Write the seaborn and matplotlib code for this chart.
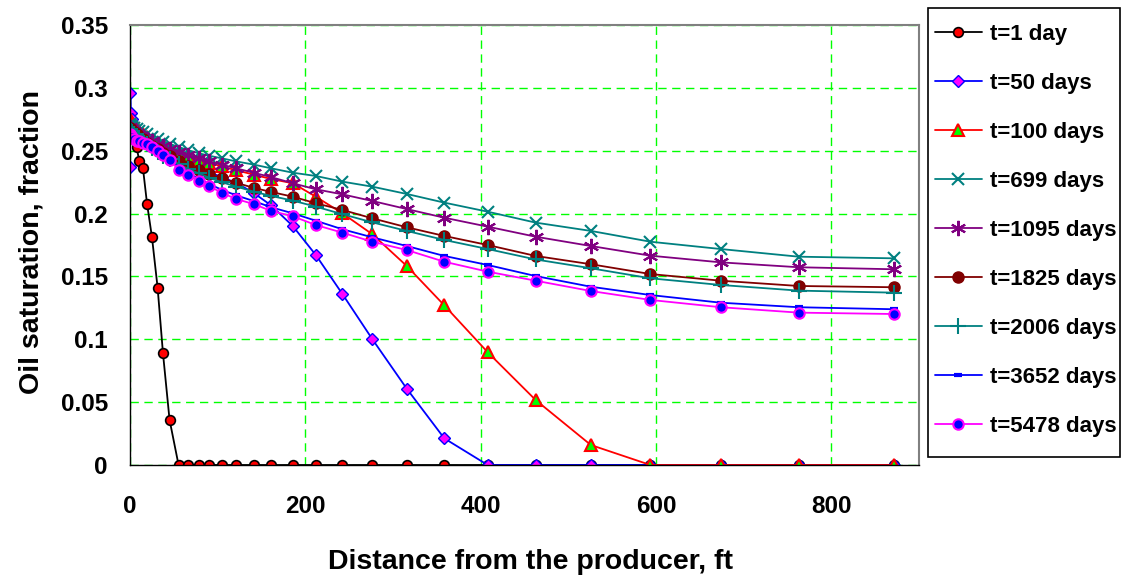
import matplotlib
matplotlib.use("Agg")
import matplotlib.pyplot as plt
import seaborn as sns
from matplotlib.patches import Rectangle
from matplotlib.ticker import MultipleLocator, FuncFormatter

# Distance of each grid block from the producer, ft
DIST = [0, 0.3, 1, 2.5, 4.5, 7.5, 10.5, 14.8, 19.4, 25.1, 31.5, 37.6, 45.1,
        55.4, 66.1, 78.2, 90.4, 104.4, 121.1, 140.9, 161.0, 185.8, 212.0,
        242.3, 276.5, 315.7, 358.5, 408.0, 462.7, 525.7, 593.7, 673.8,
        762.7, 871.0]

# Oil saturation profiles (fraction) at each report time
SO_T1 = [0.267, 0.266, 0.265, 0.263, 0.260, 0.253, 0.242, 0.236, 0.208, 0.181,
         0.141, 0.089, 0.036, 0, 0, 0, 0, 0, 0, 0, 0, 0, 0, 0, 0, 0, 0, 0, 0,
         0, 0, 0, 0, 0]
SO_T50 = [0.237, 0.296, 0.280, 0.275, 0.270, 0.266, 0.263, 0.2605, 0.258,
          0.255, 0.2525, 0.250, 0.247, 0.2435, 0.240, 0.2365, 0.233, 0.229,
          0.2245, 0.2165, 0.2065, 0.190, 0.167, 0.136, 0.100, 0.0607, 0.0212,
          0, 0, 0, 0, 0, 0, 0]
SO_T100 = [0.275, 0.2745, 0.274, 0.272, 0.270, 0.268, 0.266, 0.2635, 0.261,
           0.258, 0.2555, 0.253, 0.2505, 0.248, 0.2455, 0.243, 0.2405, 0.2375,
           0.2345, 0.231, 0.2275, 0.2241, 0.2134, 0.2002, 0.1835, 0.1583,
           0.127, 0.0897, 0.0517, 0.0159, 0, 0, 0, 0]
SO_T699 = [0.271, 0.2705, 0.270, 0.269, 0.268, 0.267, 0.266, 0.2645, 0.263,
           0.261, 0.259, 0.257, 0.2555, 0.253, 0.2505, 0.248, 0.246, 0.244,
           0.2415, 0.239, 0.236, 0.2325, 0.2299, 0.2254, 0.2214, 0.2156,
           0.2087, 0.2015, 0.1928, 0.1862, 0.1776, 0.1718, 0.1657, 0.1644]
SO_T1095 = [0.2685, 0.268, 0.2675, 0.2665, 0.2655, 0.264, 0.2625, 0.261,
            0.2595, 0.2575, 0.2555, 0.2535, 0.2515, 0.249, 0.2465, 0.244,
            0.2415, 0.239, 0.236, 0.2325, 0.229, 0.2241, 0.2193, 0.2153,
            0.2100, 0.2036, 0.1967, 0.1896, 0.1816, 0.1742, 0.1665, 0.1612,
            0.1573, 0.1557]
SO_T1825 = [0.268, 0.2675, 0.267, 0.266, 0.2645, 0.263, 0.261, 0.259, 0.2565,
            0.2535, 0.251, 0.2485, 0.246, 0.242, 0.238, 0.235, 0.2315, 0.228,
            0.2245, 0.2205, 0.2172, 0.2134, 0.2082, 0.2029, 0.1962, 0.1891,
            0.1822, 0.1750, 0.1663, 0.1597, 0.1519, 0.1466, 0.1424, 0.1414]
SO_T2006 = [0.267, 0.2665, 0.266, 0.265, 0.2635, 0.262, 0.260, 0.2575, 0.255,
            0.252, 0.249, 0.246, 0.2435, 0.2395, 0.2355, 0.232, 0.2285, 0.225,
            0.2215, 0.2175, 0.214, 0.2103, 0.2055, 0.1995, 0.1930, 0.1862,
            0.1790, 0.1718, 0.1635, 0.1565, 0.1485, 0.1432, 0.1387, 0.1371]
SO_T3652 = [0.265, 0.2645, 0.264, 0.263, 0.2615, 0.260, 0.259, 0.258, 0.2565,
            0.254, 0.251, 0.2475, 0.2435, 0.2365, 0.232, 0.228, 0.2235, 0.219,
            0.2145, 0.210, 0.205, 0.2002, 0.1943, 0.1875, 0.1811, 0.1742,
            0.1663, 0.1591, 0.1503, 0.1418, 0.1352, 0.1291, 0.1255, 0.1239]
SO_T5478 = [0.263, 0.2625, 0.262, 0.261, 0.2595, 0.258, 0.2575, 0.2565,
            0.2555, 0.253, 0.250, 0.2465, 0.2426, 0.235, 0.2305, 0.2262,
            0.2219, 0.2166, 0.2116, 0.2076, 0.2021, 0.1978, 0.1909, 0.1848,
            0.1776, 0.1710, 0.1617, 0.1538, 0.1466, 0.1384, 0.1313, 0.1255,
            0.1212, 0.1201]

LABELS = ["t=1 day", "t=50 days", "t=100 days", "t=699 days", "t=1095 days",
          "t=1825 days", "t=2006 days", "t=3652 days", "t=5478 days"]
SERIES = [SO_T1, SO_T50, SO_T100, SO_T699, SO_T1095, SO_T1825, SO_T2006,
          SO_T3652, SO_T5478]

TEAL, PURPLE, MAROON, MAGENTA, LIME = "#008080", "#800080", "#800000", "#FF00FF", "#00FF00"
STYLES = [
    dict(color="black", marker="o", markerfacecolor="red", markeredgecolor="black",
         markersize=7, markeredgewidth=1.2),
    dict(color="blue", marker="D", markerfacecolor=MAGENTA, markeredgecolor="blue",
         markersize=6.5, markeredgewidth=1.0),
    dict(color="red", marker="^", markerfacecolor=LIME, markeredgecolor="red",
         markersize=8.5, markeredgewidth=1.5),
    dict(color=TEAL, marker="x", markeredgecolor=TEAL, markersize=9,
         markeredgewidth=1.5),
    dict(color=PURPLE, marker=(6, 2, 0), markeredgecolor=PURPLE, markersize=11,
         markeredgewidth=1.5),
    dict(color=MAROON, marker="o", markerfacecolor=MAROON, markeredgecolor=MAROON,
         markersize=8, markeredgewidth=1.0),
    dict(color=TEAL, marker="+", markeredgecolor=TEAL, markersize=11,
         markeredgewidth=1.5),
    dict(color="blue", marker="_", markeredgecolor="blue", markersize=6,
         markeredgewidth=3),
    dict(color=MAGENTA, marker="o", markerfacecolor="blue", markeredgecolor=MAGENTA,
         markersize=7.5, markeredgewidth=1.5),
]

sns.set_theme(style="white")
plt.rcParams["font.family"] = ["Liberation Sans", "DejaVu Sans"]
plt.rcParams["font.weight"] = "bold"
plt.rcParams["text.color"] = "black"
plt.rcParams["axes.labelcolor"] = "black"

fig = plt.figure(figsize=(11.25, 5.79), dpi=100)
W, H = 1125, 579
ax = fig.add_axes([130 / W, 1 - 465 / H, (919 - 130) / W, (465 - 25) / H])

for label, values, style in zip(LABELS, SERIES, STYLES):
    sns.lineplot(x=DIST, y=values, ax=ax, label=label, estimator=None,
                 sort=False, linewidth=1.3, **style)

ax.set_xlim(0, 900)
ax.set_ylim(0, 0.35)
ax.xaxis.set_major_locator(MultipleLocator(200))
ax.yaxis.set_major_locator(MultipleLocator(0.05))
ax.yaxis.set_major_formatter(FuncFormatter(lambda v, _: f"{v:.2f}".rstrip("0").rstrip(".") if v else "0"))

ax.set_axisbelow(True)
ax.grid(True, color=LIME, linestyle=(0, (6, 4)), linewidth=1.0)

for side in ("left", "bottom"):
    ax.spines[side].set_color("black")
    ax.spines[side].set_linewidth(1.0)
for side in ("top", "right"):
    ax.spines[side].set_color("#808080")
    ax.spines[side].set_linewidth(1.5)

ax.tick_params(axis="both", direction="inout", length=10, width=1.0,
               color="#404040", labelsize=17.5, labelcolor="black")
ax.tick_params(axis="x", pad=16.5)
ax.tick_params(axis="y", pad=11)
for t in ax.get_xticklabels() + ax.get_yticklabels():
    t.set_fontweight("bold")

ax.set_xlabel("Distance from the producer, ft", fontsize=20.5, fontweight="bold",
              va="center", color="black")
ax.xaxis.set_label_coords(0.507, (465 - 562) / 440)
ax.set_ylabel("Oil saturation, fraction", fontsize=20.5, fontweight="bold",
              va="center", color="black")
ax.yaxis.set_label_coords((32 - 130) / 789, 0.507)

# Legend entries placed inside a separately drawn box at the right
leg = ax.legend(loc="upper left", bbox_to_anchor=(935 / W, 1 - 24 / H),
                bbox_transform=fig.transFigure, borderaxespad=0, borderpad=0,
                frameon=False, prop=dict(size=16, weight="bold"),
                labelspacing=1.26, handlelength=2.11, handletextpad=0.36)
for txt in leg.get_texts():
    txt.set_color("black")
fig.patches.append(Rectangle((928 / W, 1 - 457 / H), (1120 - 928) / W,
                             (457 - 8) / H, transform=fig.transFigure,
                             facecolor="none", edgecolor="black", linewidth=1.2,
                             zorder=5))

fig.savefig("out.png", dpi=100, facecolor="white")
